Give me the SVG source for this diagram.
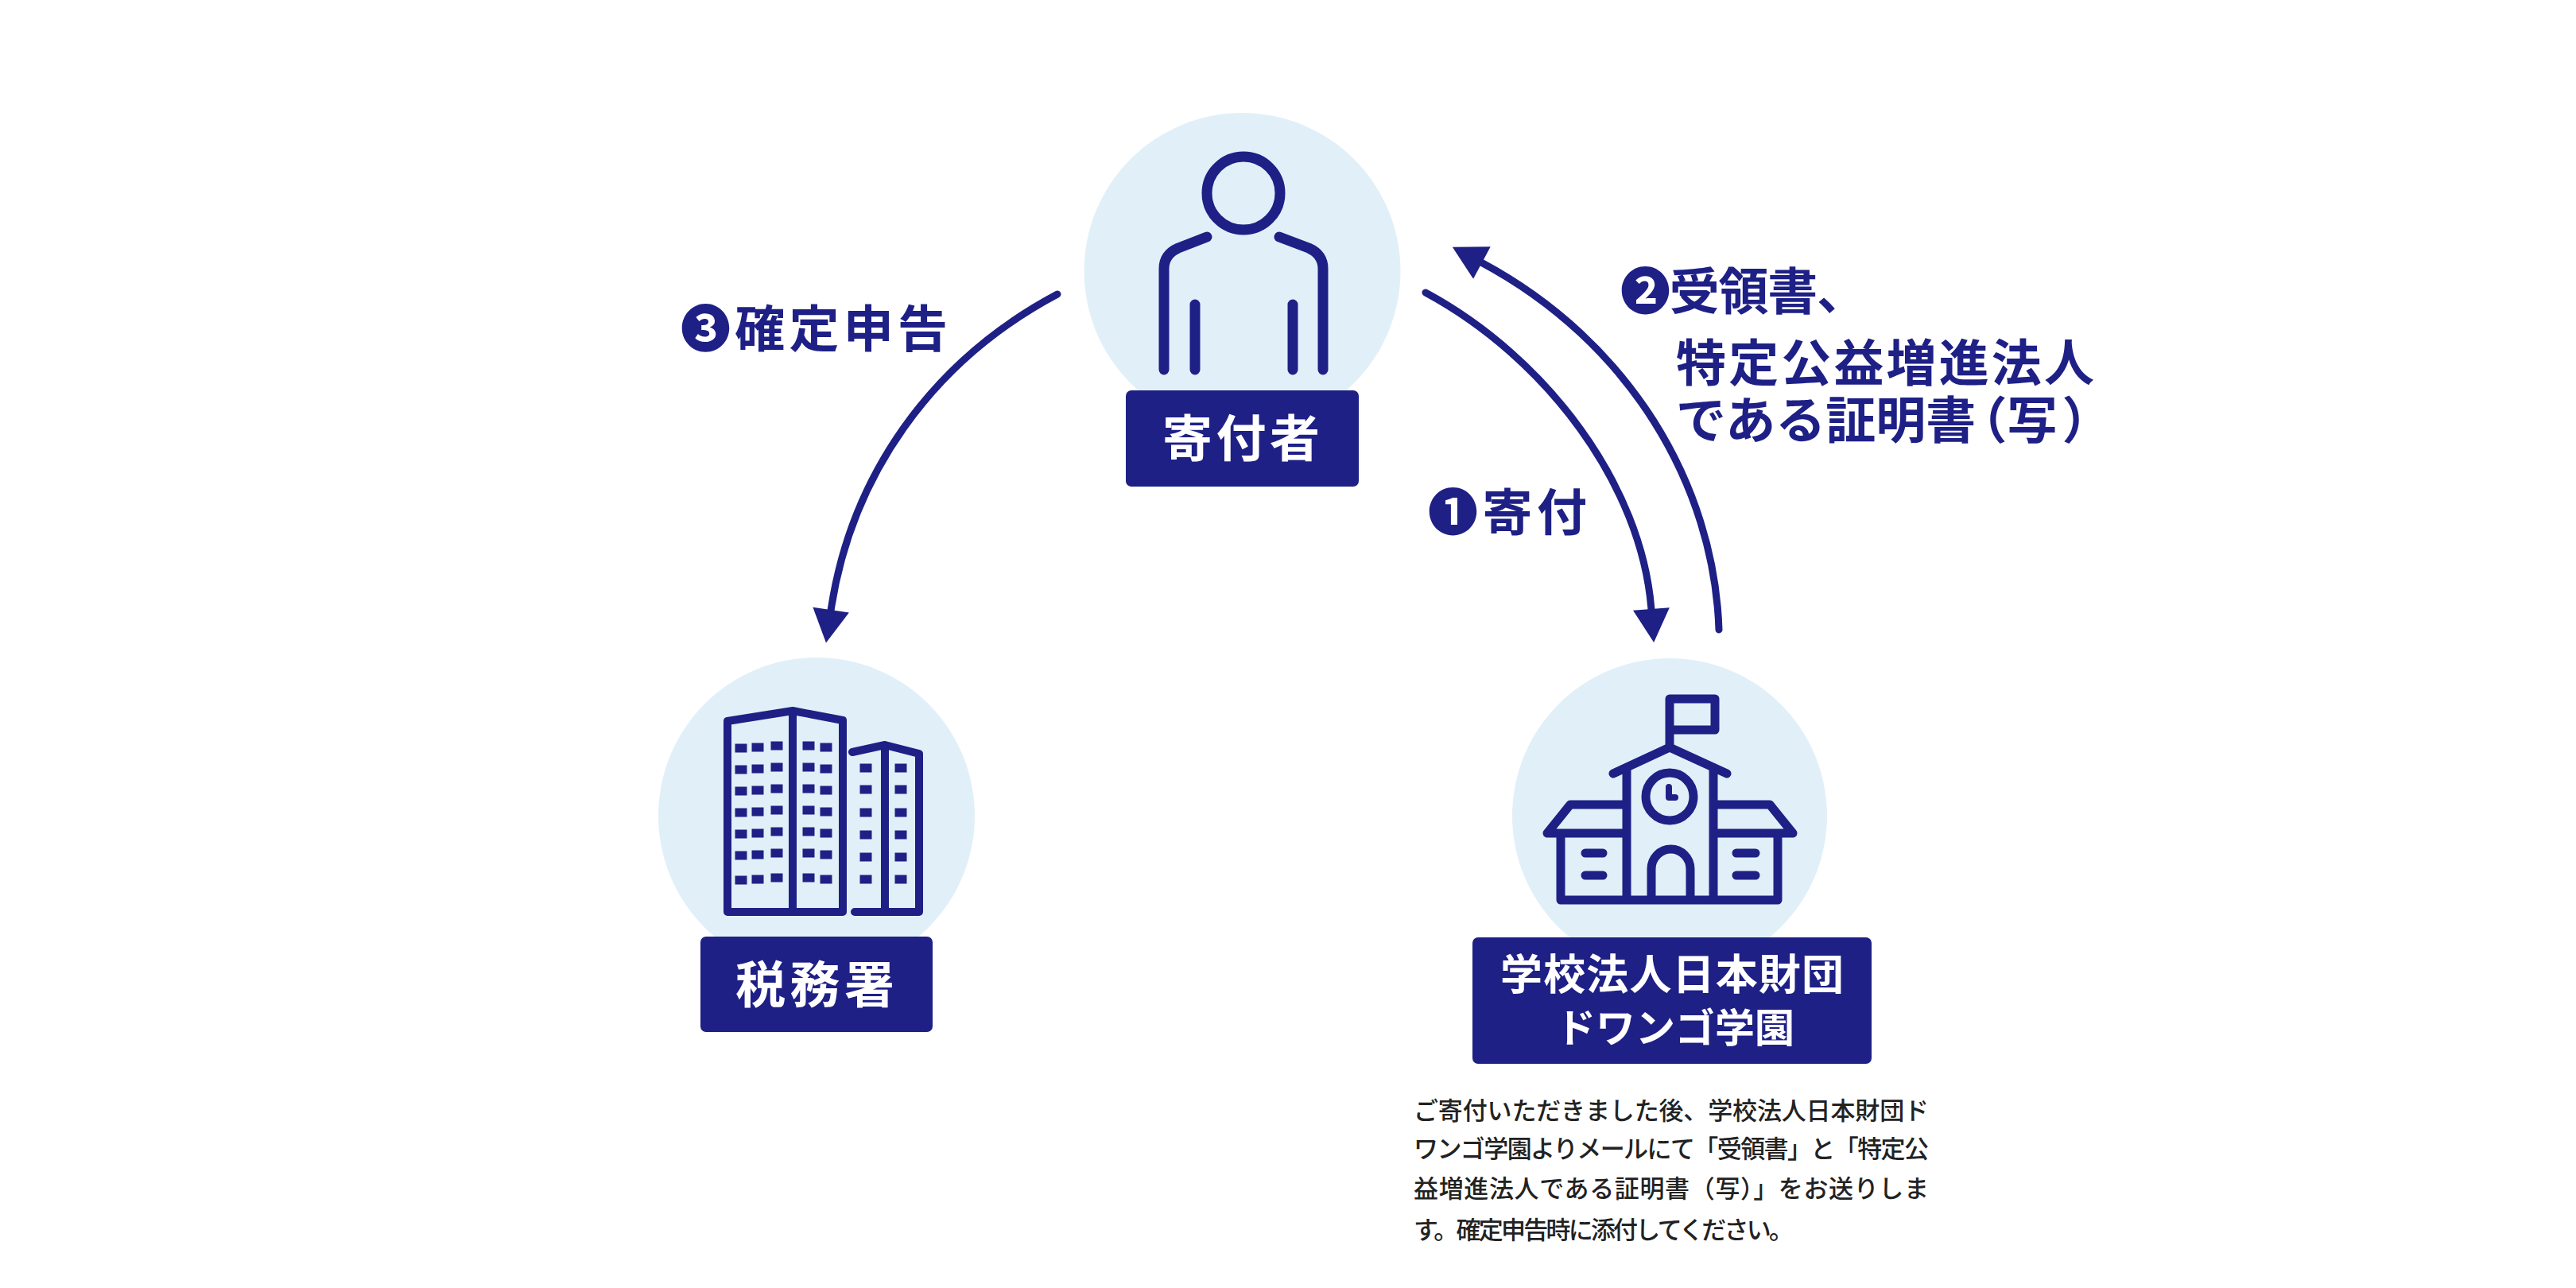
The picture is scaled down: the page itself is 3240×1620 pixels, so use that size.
<svg xmlns="http://www.w3.org/2000/svg" width="3240" height="1620" viewBox="0 0 3240 1620">
<defs>
<marker id="ah" markerUnits="userSpaceOnUse" markerWidth="48" markerHeight="46" refX="3" refY="23" orient="auto"><path d="M2 0L44 23L2 46Z" fill="#1e2086"/></marker>
<g id="w"><rect x="-7.500" y="-5.500" width="15" height="11" fill="#1e2086"/></g>
</defs>
<style>
text{font-family:"Noto Sans CJK JP","Noto Sans",sans-serif}
.bg{fill:#e1f0f8}
.lab{fill:#1e2086}
.ic{fill:none;stroke:#1e2086;stroke-linecap:round;stroke-linejoin:round}
.w{fill:#fff;font-weight:700}
.b{fill:#1e2086;font-weight:700;font-size:63px}
.n{fill:#222;font-size:31px;font-weight:500}
.c{fill:none;stroke:#1e2086;stroke-width:9;stroke-linecap:round}
</style>
<rect width="3240" height="1620" fill="#fff"/>
<g id="connectors">
<path class="c" d="M1793 368C1945 450 2065 610 2077 767" marker-end="url(#ah)"/>
<path class="c" d="M2162 792C2156 610 2050 430 1863 330" marker-end="url(#ah)"/>
<path class="c" d="M1330 370C1170 455 1070 600 1045 768" marker-end="url(#ah)"/>
</g>
<g id="node-donor">
<circle class="bg" cx="1562.500" cy="341" r="199"/>
<g class="ic" stroke-width="13">
<circle cx="1564" cy="243" r="46"/>
<path d="M1518 298L1482 312Q1464 320 1464 338V465M1609 298L1646 312Q1664 320 1664 338V465M1503 383V465M1626 383V465"/>
</g>
<rect class="lab" x="1416" y="491" width="293" height="121" rx="7"/>
<text class="w" x="1462" y="574" font-size="63" textLength="198">寄付者</text>
</g>
<g id="node-tax">
<circle class="bg" cx="1027" cy="1026" r="199"/>
<g class="ic" stroke-width="10">
<path d="M915 907L997 894L1060 906V1147H915ZM997 894V1147M1072 946L1113 937L1156 948V1147H1075M1113 937V1147"/>
</g>
<g fill="#1e2086">
<use href="#w" x="932" y="941"/><use href="#w" x="953" y="940"/><use href="#w" x="977" y="938"/><use href="#w" x="1017" y="938"/><use href="#w" x="1039" y="940"/>
<use href="#w" x="932" y="968"/><use href="#w" x="953" y="967"/><use href="#w" x="977" y="965"/><use href="#w" x="1017" y="965"/><use href="#w" x="1039" y="967"/>
<use href="#w" x="932" y="995"/><use href="#w" x="953" y="994"/><use href="#w" x="977" y="992"/><use href="#w" x="1017" y="992"/><use href="#w" x="1039" y="994"/>
<use href="#w" x="932" y="1022"/><use href="#w" x="953" y="1021"/><use href="#w" x="977" y="1019"/><use href="#w" x="1017" y="1019"/><use href="#w" x="1039" y="1021"/>
<use href="#w" x="932" y="1049"/><use href="#w" x="953" y="1048"/><use href="#w" x="977" y="1046"/><use href="#w" x="1017" y="1046"/><use href="#w" x="1039" y="1048"/>
<use href="#w" x="932" y="1076"/><use href="#w" x="953" y="1075"/><use href="#w" x="977" y="1073"/><use href="#w" x="1017" y="1073"/><use href="#w" x="1039" y="1075"/>
<use href="#w" x="932" y="1107"/><use href="#w" x="953" y="1106"/><use href="#w" x="977" y="1104"/><use href="#w" x="1017" y="1104"/><use href="#w" x="1039" y="1106"/>
<use href="#w" x="1089" y="966"/><use href="#w" x="1133" y="966"/><use href="#w" x="1089" y="993"/><use href="#w" x="1133" y="993"/><use href="#w" x="1089" y="1022"/><use href="#w" x="1133" y="1022"/><use href="#w" x="1089" y="1050"/><use href="#w" x="1133" y="1050"/><use href="#w" x="1089" y="1078"/><use href="#w" x="1133" y="1078"/><use href="#w" x="1089" y="1106"/><use href="#w" x="1133" y="1106"/>
</g>
<rect class="lab" x="881" y="1178" width="292" height="120" rx="7"/>
<text class="w" x="925" y="1261" font-size="63" textLength="200">税務署</text>
</g>
<g id="node-school">
<circle class="bg" cx="2100" cy="1026" r="198"/>
<g class="ic" stroke-width="11">
<path d="M2100 937V879H2157V918H2100M2029 973L2100 940L2172 973M2046 965V1132M2155 965V1132M2046 1012H1975L1946 1048H2046M2155 1012H2226L2255 1048H2155M1963 1048V1132H2236V1048M2077 1132V1093A24.500 25 0 0 1 2126 1093V1132M1994 1073H2016M1994 1101H2016M2184 1073H2208M2184 1101H2208"/>
<circle cx="2100" cy="1002" r="30"/>
<path d="M2099 990V1003H2107" stroke-width="8"/>
</g>
<rect class="lab" x="1852" y="1179" width="502" height="159" rx="7"/>
<text class="w" x="1887" y="1245" font-size="53" textLength="432">学校法人日本財団</text>
<text class="w" x="1957" y="1311" font-size="50" textLength="300">ドワンゴ学園</text>
</g>
<g id="labels">
<text class="b" x="856" y="436" textLength="336">❸確定申告</text>
<text class="b" x="2038" y="389" textLength="310">❷受領書、</text>
<text class="b" x="2108" y="479" textLength="526">特定公益増進法人</text>
<text class="b" x="2108" y="551">である証明書<tspan dx="-24">（</tspan>写<tspan dx="6">）</tspan></text>
<text class="b" x="1796" y="667" textLength="200">❶寄付</text>
</g>
<g id="note">
<text class="n" x="1778" y="1408" textLength="648">ご寄付いただきました後、学校法人日本財団ド</text>
<text class="n" x="1778" y="1456" textLength="648">ワンゴ学園よりメールにて「受領書」と「特定公</text>
<text class="n" x="1778" y="1506" textLength="648">益増進法人である証明書（写）」をお送りしま</text>
<text class="n" x="1778" y="1558" textLength="478">す。確定申告時に添付してください。</text>
</g>
</svg>
